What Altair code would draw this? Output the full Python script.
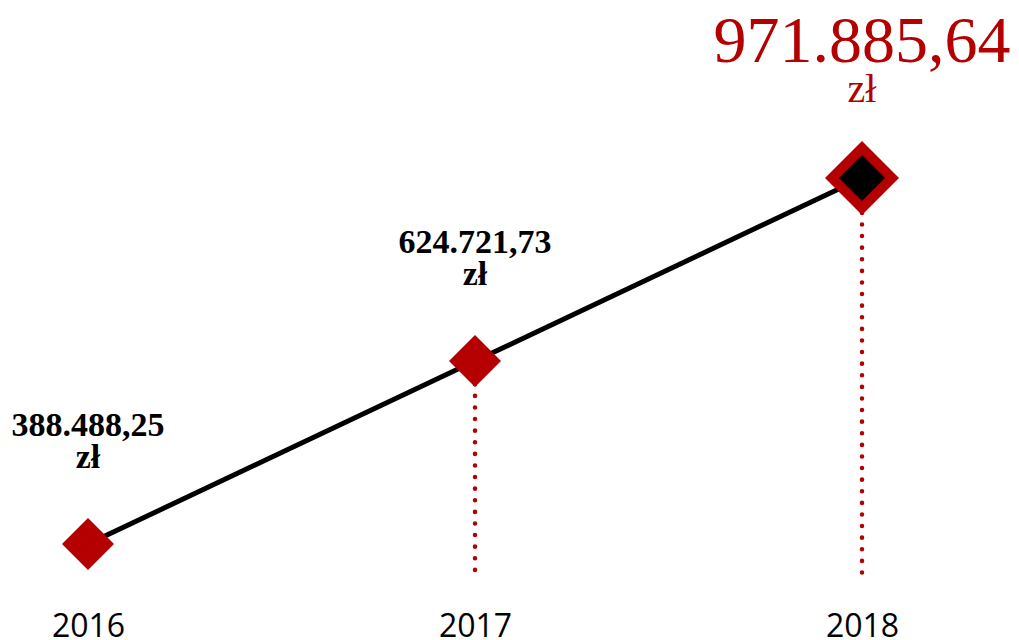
import altair as alt
import pandas as pd

# ---- data ----
years = [2016, 2017, 2018]
values = [388488.25, 624721.73, 971885.64]
highlight = [False, False, True]
dropline = [False, True, True]
currency = "zł"


def fmt_pl(v):
    s = f"{v:,.2f}"
    return s.replace(",", " ").replace(".", ",").replace(" ", ".")


df = pd.DataFrame({
    "Year": years,
    "Value": values,
    "Label": [fmt_pl(v) for v in values],
    "Unit": [currency] * len(years),
    "Highlight": highlight,
    "Drop": dropline,
})

RED = "#b40000"
SERIF = "Liberation Serif"

base = alt.Chart(df)

x = alt.X(
    "Year:Q",
    scale=alt.Scale(domain=[2015.7933, 2018.385], nice=False, zero=False),
    axis=alt.Axis(
        values=years, format="d", domain=False, ticks=False, tickSize=0,
        grid=False, labelFont="Open Sans", labelFontSize=32, labelColor="#000",
        labelPadding=2, labelBaseline="top", labelFlush=False, title=None,
    ),
)
y = alt.Y(
    "Year:Q",
    scale=alt.Scale(domain=[2015.6448, 2018.9235], nice=False, zero=False),
    axis=None,
)

rules = base.transform_filter("datum.Drop").mark_rule(
    color=RED, strokeWidth=4.5, strokeCap="round", strokeDash=[0.1, 11.5]
).encode(x=x, y=y, y2=alt.value(564))

line = base.mark_line(color="black", strokeWidth=5).encode(x=x, y=y)

diamonds = base.mark_point(
    shape="diamond", filled=True, color=RED, opacity=1
).encode(
    x=x, y=y,
    size=alt.condition("datum.Highlight", alt.value(5476), alt.value(2704)),
)

inner = base.transform_filter("datum.Highlight").mark_point(
    shape="diamond", filled=True, color="black", size=2116, opacity=1
).encode(x=x, y=y)

num = base.transform_filter("!datum.Highlight").mark_text(
    font=SERIF, fontWeight="bold", fontSize=34, dy=-108,
    baseline="alphabetic", align="center", color="black",
).encode(x=x, y=y, text="Label:N")

unit = base.transform_filter("!datum.Highlight").mark_text(
    font=SERIF, fontWeight="bold", fontSize=34, dy=-76,
    baseline="alphabetic", align="center", color="black",
).encode(x=x, y=y, text="Unit:N")

bignum = base.transform_filter("datum.Highlight").mark_text(
    font=SERIF, fontSize=66, dy=-116,
    baseline="alphabetic", align="center", color=RED,
).encode(x=x, y=y, text="Label:N")

bigunit = base.transform_filter("datum.Highlight").mark_text(
    font=SERIF, fontSize=40, dy=-76,
    baseline="alphabetic", align="center", color=RED,
).encode(x=x, y=y, text="Unit:N")

chart = alt.layer(
    rules, line, diamonds, inner, num, unit, bignum, bigunit
).properties(width=1003, height=600, padding=0).configure_view(stroke=None)

chart.save("out.html", embed_options={"renderer": "svg", "actions": False})
